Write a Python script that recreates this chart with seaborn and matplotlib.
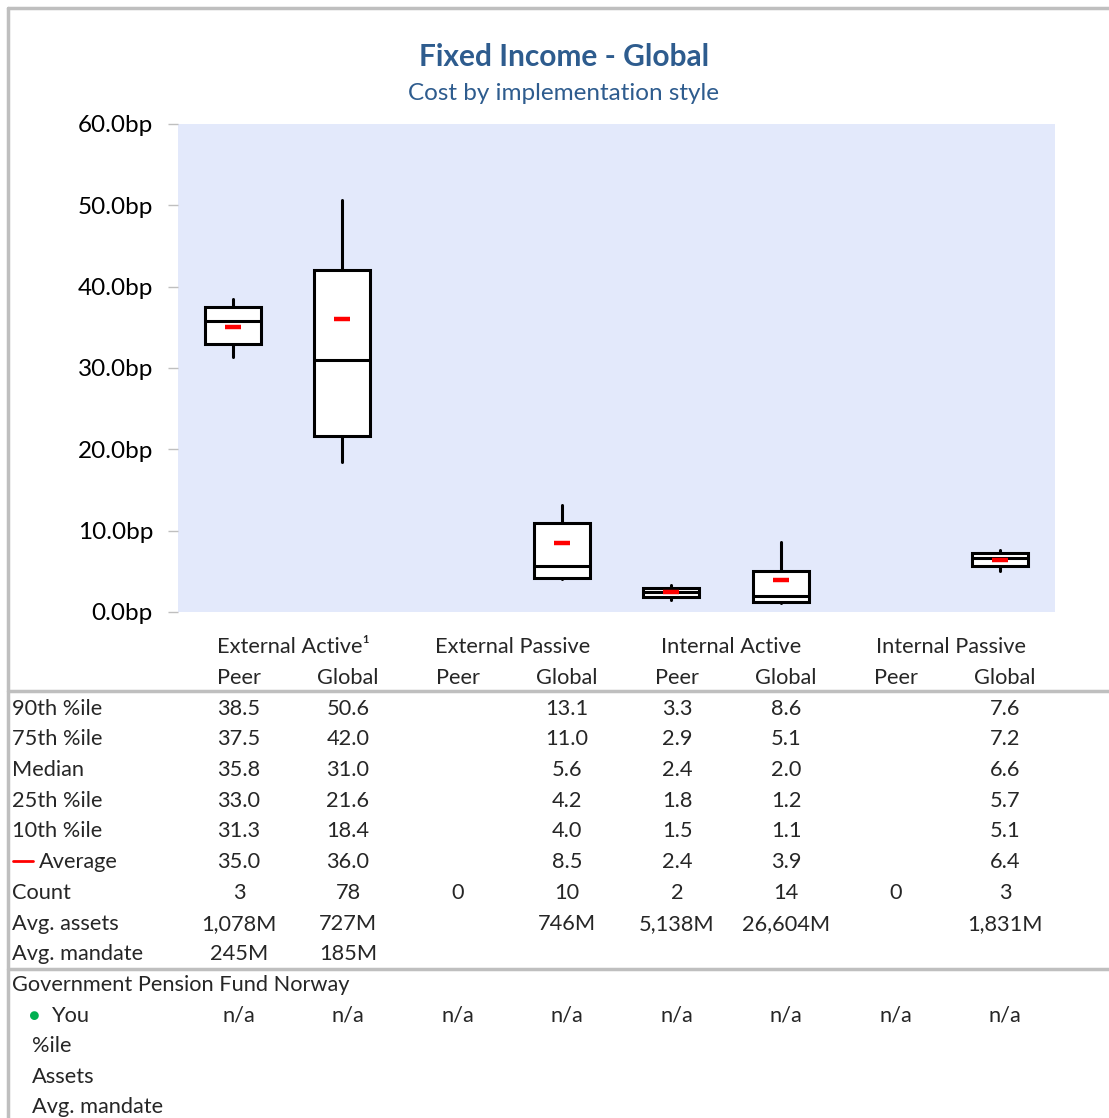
import numpy as np
import matplotlib
matplotlib.use("Agg")
import matplotlib.pyplot as plt
import seaborn as sns
from matplotlib.lines import Line2D

# --- data ---
groups = ["External Active\u00b9", "External Passive", "Internal Active", "Internal Passive"]
subcols = ["Peer", "Global"] * 4
p90 = [38.5, 50.6, np.nan, 13.1, 3.3, 8.6, np.nan, 7.6]
p75 = [37.5, 42.0, np.nan, 11.0, 2.9, 5.1, np.nan, 7.2]
median = [35.8, 31.0, np.nan, 5.6, 2.4, 2.0, np.nan, 6.6]
p25 = [33.0, 21.6, np.nan, 4.2, 1.8, 1.2, np.nan, 5.7]
p10 = [31.3, 18.4, np.nan, 4.0, 1.5, 1.1, np.nan, 5.1]
average = [35.0, 36.0, np.nan, 8.5, 2.4, 3.9, np.nan, 6.4]
count = [3, 78, 0, 10, 2, 14, 0, 3]
avg_assets = ["1,078M", "727M", "", "746M", "5,138M", "26,604M", "", "1,831M"]
avg_mandate = ["245M", "185M", "", "", "", "", "", ""]
you = ["n/a"] * 8
yticks = [0, 10, 20, 30, 40, 50, 60]

W, H = 1109, 1118
title_col = "#2E5C8E"
grey = "#BFBFBF"

sns.set_theme(style="white")
plt.rcParams["font.family"] = ["Lato", "DejaVu Sans"]

fig = plt.figure(figsize=(W / 100, H / 100), dpi=100)
fig.patch.set_facecolor("white")


def px(x, y):
    return x / W, 1 - y / H


ax = fig.add_axes([178 / W, 1 - 612 / H, (1055 - 178) / W, (612 - 124) / H])
ax.set_facecolor("#E3E9FB")
for s in ax.spines.values():
    s.set_visible(False)

# box stats (whiskers at 10th/90th)
stats, pos = [], []
for i in range(8):
    if np.isnan(median[i]):
        continue
    stats.append(dict(med=median[i], q1=p25[i], q3=p75[i],
                      whislo=p10[i], whishi=p90[i], fliers=[]))
    pos.append(i)

ax.bxp(stats, positions=pos, widths=0.51, showcaps=False, showfliers=False,
       patch_artist=True,
       boxprops=dict(facecolor="white", edgecolor="black", linewidth=2.2),
       medianprops=dict(color="black", linewidth=2.2),
       whiskerprops=dict(color="black", linewidth=2.2))

xs = [i for i in range(8) if not np.isnan(average[i])]
ys = [average[i] for i in xs]
sns.scatterplot(x=xs, y=ys, ax=ax, marker="_", s=130, color="red",
                linewidth=3.2, zorder=5)

ax.set_xlim(-0.5, 7.5)
ax.set_ylim(0, 60)
ax.set_xticks([])
ax.set_yticks(yticks)
ax.set_yticklabels([f"{v:.1f}bp" for v in yticks], fontsize=17.5, color="black")
ax.tick_params(axis="y", left=True, length=7, width=1, color=grey, pad=11)

# titles
fig.text(*px(564, 57), "Fixed Income - Global", ha="center", va="center",
         fontsize=21.5, fontweight="bold", color=title_col)
fig.text(*px(564, 93), "Cost by implementation style", ha="center", va="center",
         fontsize=17.5, color=title_col)

# table
col_x = [239, 348, 458, 567, 677, 786, 896, 1005]
fs = 15.7
for g, name in enumerate(groups):
    fig.text(*px((col_x[2 * g] + col_x[2 * g + 1]) / 2, 647), name,
             ha="center", va="center", fontsize=fs)
for i, c in enumerate(subcols):
    fig.text(*px(col_x[i], 678), c, ha="center", va="center", fontsize=fs)


def fmt(v):
    return "" if np.isnan(v) else f"{v:.1f}"


rows = [
    ("90th %ile", [fmt(v) for v in p90]),
    ("75th %ile", [fmt(v) for v in p75]),
    ("Median", [fmt(v) for v in median]),
    ("25th %ile", [fmt(v) for v in p25]),
    ("10th %ile", [fmt(v) for v in p10]),
    ("Average", [fmt(v) for v in average]),
    ("Count", [str(v) for v in count]),
    ("Avg. assets", avg_assets),
    ("Avg. mandate", avg_mandate),
]
row_y = [709, 739, 770, 801, 831, 862, 893, 924, 954]
for (label, vals), y in zip(rows, row_y):
    if label == "Average":
        fig.add_artist(Line2D([13 / W, 33 / W], [1 - (y - 1) / H] * 2,
                              color="red", lw=2, transform=fig.transFigure))
        fig.text(*px(39, y), label, ha="left", va="center", fontsize=fs)
    else:
        fig.text(*px(12, y), label, ha="left", va="center", fontsize=fs)
    for x, v in zip(col_x, vals):
        fig.text(*px(x, y), v, ha="center", va="center", fontsize=fs)

fig.text(*px(12, 985), "Government Pension Fund Norway", ha="left",
         va="center", fontsize=fs)
fig.text(*px(29, 1016), "\u25cf", ha="left", va="center", fontsize=13,
         color="#00B050")
fig.text(*px(52, 1016), "You", ha="left", va="center", fontsize=fs)
for x, v in zip(col_x, you):
    fig.text(*px(x, 1016), v, ha="center", va="center", fontsize=fs)
for lab, y in zip(["%ile", "Assets", "Avg. mandate"], [1046, 1077, 1107]):
    fig.text(*px(32, y), lab, ha="left", va="center", fontsize=fs)

# frame and separator lines
for y in [691, 969]:
    fig.add_artist(Line2D([8 / W, 1], [1 - y / H] * 2, color=grey, lw=2.5,
                          transform=fig.transFigure))
fig.add_artist(Line2D([8 / W, 8 / W], [0, 1 - 8 / H], color=grey, lw=2.5,
                      transform=fig.transFigure))
fig.add_artist(Line2D([8 / W, 1], [1 - 8 / H] * 2, color=grey, lw=2.5,
                      transform=fig.transFigure))

fig.savefig("out.png", dpi=100)
